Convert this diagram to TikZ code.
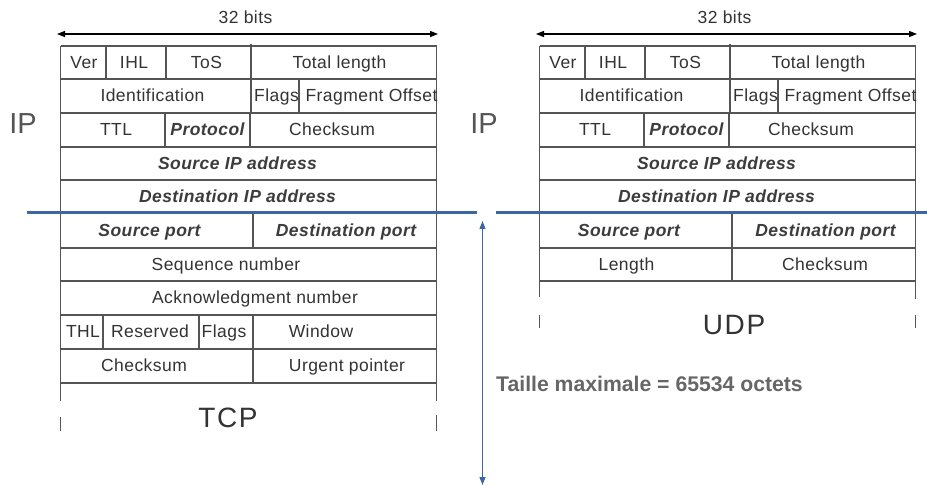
\documentclass[tikz,border=0pt]{standalone}
\usepackage{fontspec}
\setmainfont{Liberation Sans}
\newfontfamily\fieldfont{Liberation Sans}[LetterSpace=2.5]
\newfontfamily\layerfont{Liberation Sans}[LetterSpace=6.0]
\usetikzlibrary{arrows.meta}

\definecolor{gridgray}{HTML}{555555}
\definecolor{txtgray}{HTML}{333333}
\definecolor{keygray}{HTML}{3C3C3C}
\definecolor{labelgray}{HTML}{555555}
\definecolor{sepblue}{RGB}{59,104,160}
\definecolor{notegray}{HTML}{666666}

\tikzset{
  cell/.style={line width=1.2pt, draw=gridgray},
  field/.style={inner sep=0pt, text=txtgray, text height=12.5pt, text depth=0.5pt,
    font=\fieldfont\fontsize{17.5}{20}\selectfont},
  keyfield/.style={inner sep=0pt, text=keygray, text height=12.5pt, text depth=0.5pt,
    font=\fieldfont\fontsize{17.5}{20}\selectfont\bfseries\itshape},
  layer/.style={inner sep=0pt, text=txtgray, text height=20pt, text depth=0pt,
    font=\layerfont\fontsize{28}{30}\selectfont},
  iplabel/.style={inner sep=0pt, text=labelgray,
    font=\fontsize{29}{32}\selectfont},
  widtharrow/.style={line width=1.2pt, black,
    {Triangle[length=8pt,width=6pt]}-{Triangle[length=8pt,width=6pt]}},
  sepline/.style={line width=3pt, sepblue},
  sizearrow/.style={line width=1.3pt, sepblue,
    {Triangle[length=8pt,width=6pt]}-{Triangle[length=8pt,width=6pt]}},
  note/.style={inner sep=0pt, text=notegray,
    font=\fontsize{21.2}{24}\selectfont\bfseries},
}

% IPv4 header grid with its field names; #1 = name prefix, #2 = x offset
\newcommand\ipheader[2]{%
  \begin{scope}[shift={(#2,0)}]
    % 32-bit width marker
    \coordinate (#1wl) at (57,34);
    \coordinate (#1wr) at (438,34);
    \draw[widtharrow] (#1wl) -- (#1wr);
    \node[field] (#1bits) at (245.5,18) {32 bits};
    % rows
    \foreach \y in {46,79,113,147,180,213}
      \draw[cell] (60.5,\y) -- (436.5,\y);
    \draw[cell] (60.5,46) -- (60.5,213);
    \draw[cell] (436.5,46) -- (436.5,213);
    % field separators
    \draw[cell] (106,46) -- (106,79);
    \draw[cell] (166,46) -- (166,79);
    \draw[cell] (251,44) -- (251,79);
    \draw[cell] (251,79) -- (251,113);
    \draw[cell] (299,79) -- (299,113);
    \draw[cell] (165,113) -- (165,147);
    \draw[cell] (250,113) -- (250,147);
    % field names
    \node[field] (#1ver)   at (84,62.5)    {Ver};
    \node[field] (#1ihl)   at (134,62.5)   {IHL};
    \node[field] (#1tos)   at (206.5,62.5) {ToS};
    \node[field] (#1tlen)  at (339.5,62.5) {Total length};
    \node[field] (#1ident) at (152.5,96)   {Identification};
    \node[field] (#1flags) at (276.5,96)   {Flags};
    \node[field] (#1frag)  at (371.5,96)   {Fragment Offset};
    \node[field] (#1ttl)   at (116,130)    {TTL};
    \node[keyfield] (#1proto) at (207.5,130) {Protocol};
    \node[field] (#1csum)  at (332,130)    {Checksum};
    \node[keyfield] (#1src) at (237.5,163.5) {Source IP address};
    \node[keyfield] (#1dst) at (237.5,196.5) {Destination IP address};
  \end{scope}}

\begin{document}
\begin{tikzpicture}[x=1pt,y=-1pt]
  \useasboundingbox (0,0) rectangle (927,486);
  \fill[white] (0,0) rectangle (927,486);

  % IP headers
  \ipheader{L}{0}
  \ipheader{R}{479}
  \node[iplabel] (iplabelL) at (23,124) {IP};
  \node[iplabel] (iplabelR) at (484,124) {IP};

  % TCP header
  \foreach \y in {248,281,315,349,383}
    \draw[cell] (60.5,\y) -- (436.5,\y);
  \draw[cell] (60.5,213) -- (60.5,401);
  \draw[cell] (436.5,213) -- (436.5,401);
  \draw[cell] (60.5,417) -- (60.5,431);
  \draw[cell] (436.5,415) -- (436.5,431);
  \draw[cell] (253,213) -- (253,248);
  \draw[cell] (103,315) -- (103,349);
  \draw[cell] (199,315) -- (199,349);
  \draw[cell] (253,315) -- (253,349);
  \draw[cell] (253,349) -- (253,383);
  \node[keyfield] (tsrc)   at (149.5,230.5) {Source port};
  \node[keyfield] (tdst)   at (346,230.5)   {Destination port};
  \node[field]    (tseq)   at (226,264.5)   {Sequence number};
  \node[field]    (tack)   at (255,298)     {Acknowledgment number};
  \node[field]    (tthl)   at (83,332)      {THL};
  \node[field]    (tres)   at (150,332)     {Reserved};
  \node[field]    (tflags) at (224,332)     {Flags};
  \node[field]    (twin)   at (321,332)     {Window};
  \node[field]    (tcsum)  at (144,366)     {Checksum};
  \node[field]    (turg)   at (347,366)     {Urgent pointer};
  \node[layer]    (tcpname) at (228,418)    {TCP};

  % UDP header
  \foreach \y in {248,281}
    \draw[cell] (539.5,\y) -- (915.5,\y);
  \draw[cell] (539.5,213) -- (539.5,297);
  \draw[cell] (915.5,213) -- (915.5,299);
  \draw[cell] (539.5,315) -- (539.5,328);
  \draw[cell] (915.5,315) -- (915.5,328);
  \draw[cell] (732,213) -- (732,281);
  \node[keyfield] (usrc)  at (629,230.5)   {Source port};
  \node[keyfield] (udst)  at (825.5,230.5) {Destination port};
  \node[field]    (ulen)  at (626.5,265)   {Length};
  \node[field]    (ucsum) at (825,265)     {Checksum};
  \node[layer]    (udpname) at (734,325)   {UDP};

  % network / transport boundary
  \coordinate (sepLa) at (27,213);
  \coordinate (sepLb) at (477,213);
  \coordinate (sepRa) at (496,213);
  \coordinate (sepRb) at (927,213);
  \draw[sepline] (sepLa) -- (sepLb);
  \draw[sepline] (sepRa) -- (sepRb);

  % maximum size
  \coordinate (sizetop) at (482.5,221);
  \coordinate (sizebot) at (482.5,485);
  \draw[sizearrow] (sizetop) -- (sizebot);
  \node[note, anchor=west] (maxsize) at (496,384) {Taille maximale = 65534 octets};
\end{tikzpicture}
\end{document}
